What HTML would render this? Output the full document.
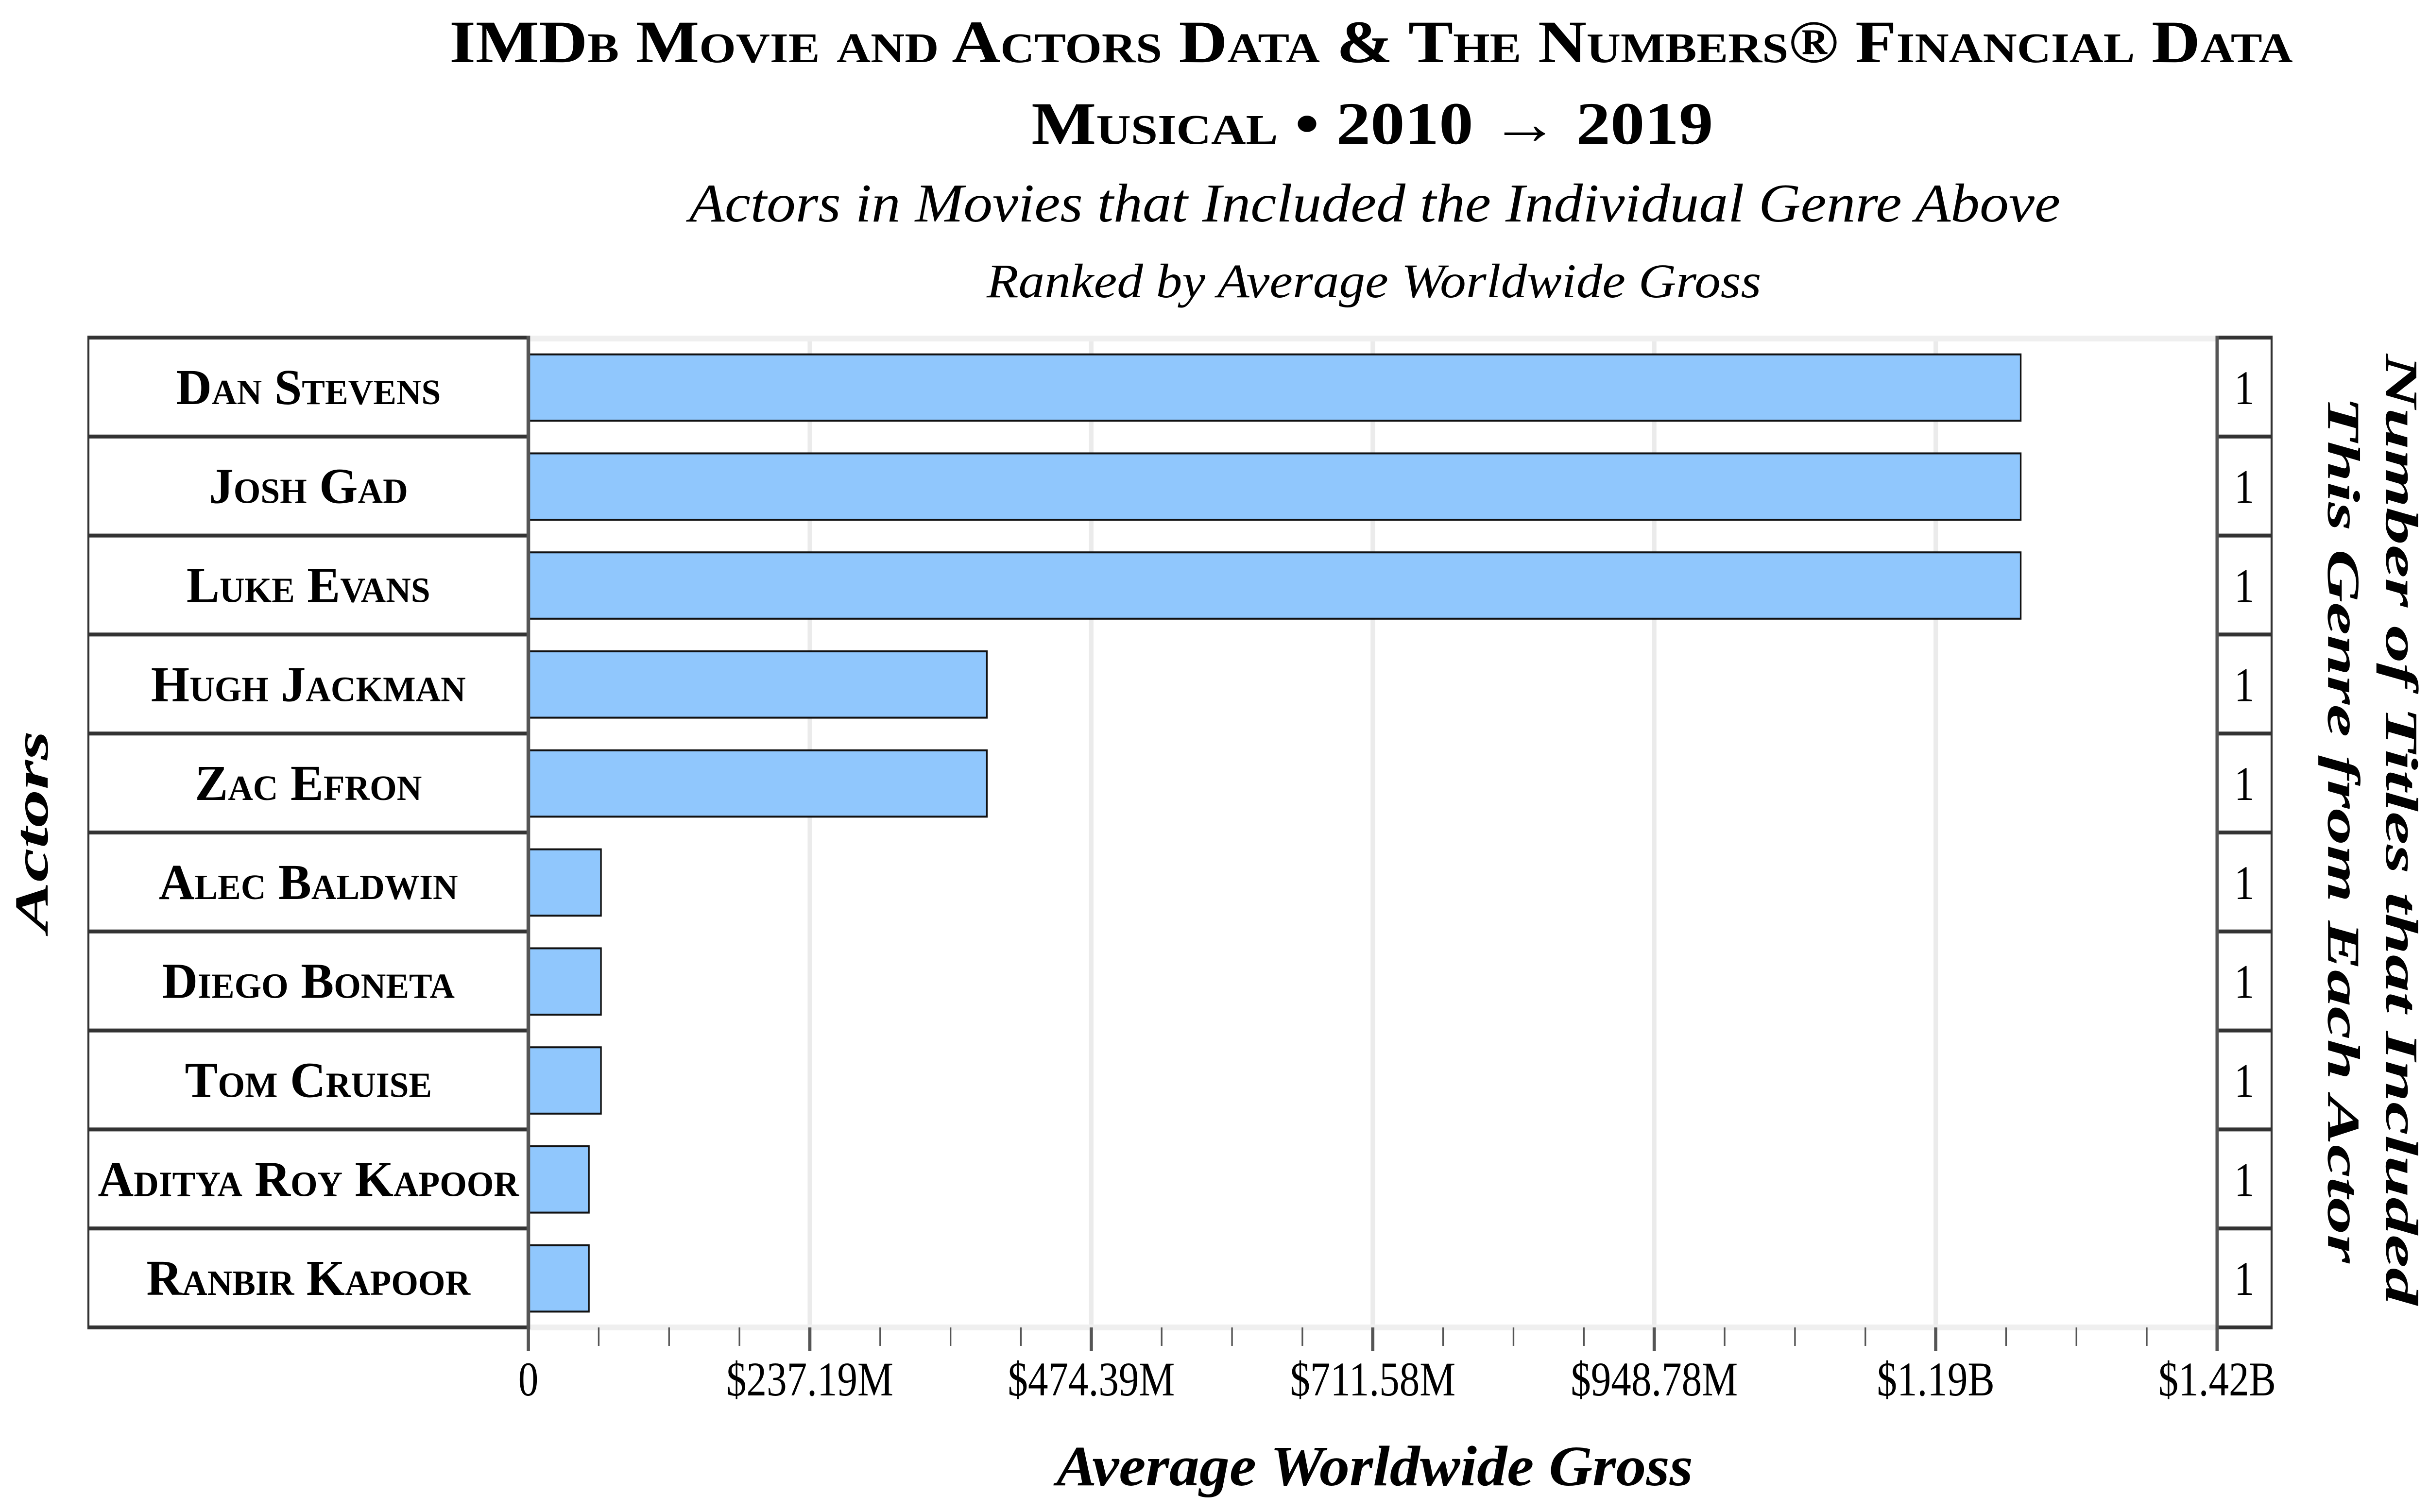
<!DOCTYPE html>
<html><head><meta charset="utf-8">
<style>
html,body{margin:0;padding:0;background:#fff;overflow:hidden;width:100%;height:100%;}
svg{display:block;width:100vw;height:100vh;}
text{font-family:"Liberation Serif","DejaVu Serif",serif;fill:#000;}
</style></head>
<body>
<svg id="chart" viewBox="0 0 6018 3113" preserveAspectRatio="none" xmlns="http://www.w3.org/2000/svg">
  <g>
    <text x="3397" y="128" text-anchor="middle" font-size="124" font-weight="bold" font-variant="small-caps" textLength="4567" lengthAdjust="spacingAndGlyphs">IMDb Movie and Actors Data &amp; The Numbers® Financial Data</text>
    <text x="3400" y="296" text-anchor="middle" font-size="124" font-weight="bold" textLength="1689" lengthAdjust="spacingAndGlyphs"><tspan font-variant="small-caps">Musical</tspan> • 2010 → 2019</text>
    <text x="3406" y="456" text-anchor="middle" font-size="112" font-style="italic" textLength="3397" lengthAdjust="spacingAndGlyphs">Actors in Movies that Included the Individual Genre Above</text>
    <text x="3404" y="612" text-anchor="middle" font-size="100" font-style="italic" textLength="1919" lengthAdjust="spacingAndGlyphs">Ranked by Average Worldwide Gross</text>
  </g>
  <g id="grid"></g>
  <g id="bars"></g>
  <g id="table"></g>
  <g id="axis"></g>
  <text x="3406" y="3058" text-anchor="middle" font-size="118" font-weight="bold" font-style="italic" textLength="1577" lengthAdjust="spacingAndGlyphs">Average Worldwide Gross</text>
  <text transform="translate(118,1712) rotate(-90)" text-anchor="middle" font-size="118" font-weight="bold" font-style="italic" textLength="415" lengthAdjust="spacingAndGlyphs">Actors</text>
  <text transform="translate(5912,1708) rotate(90)" text-anchor="middle" font-size="114" font-weight="bold" font-style="italic" textLength="1958" lengthAdjust="spacingAndGlyphs">Number of Titles that Included</text>
  <text transform="translate(5768,1708) rotate(90)" text-anchor="middle" font-size="114" font-weight="bold" font-style="italic" textLength="1785" lengthAdjust="spacingAndGlyphs">This Genre from Each Actor</text>
</svg>
<script>
const actors = ["Dan Stevens","Josh Gad","Luke Evans","Hugh Jackman","Zac Efron","Alec Baldwin","Diego Boneta","Tom Cruise","Aditya Roy Kapoor","Ranbir Kapoor"];
const grossValues = [1257.6, 1257.6, 1257.6, 386.4, 386.4, 61.2, 61.2, 61.2, 51.0, 51.0];
const titleCounts = [1,1,1,1,1,1,1,1,1,1];
const tickValues = [0, 237.19, 474.39, 711.58, 948.78, 1186, 1423.1];
const tickLabels = ["0","$237.19M","$474.39M","$711.58M","$948.78M","$1.19B","$1.42B"];

const NS = "http://www.w3.org/2000/svg";
const X0 = 1309, X1 = 5493, Y0 = 695, Y1 = 2733;
const TL = 219, CR = 5628;
const xMax = 1423.1;
const rowH = (Y1 - Y0) / actors.length;
function xScale(v){ return X0 + (v / xMax) * (X1 - X0); }
function yRow(i){ return Y0 + i * rowH; }
function mk(tag, attrs, parent){
  const el = document.createElementNS(NS, tag);
  for (const k in attrs) el.setAttribute(k, attrs[k]);
  parent.appendChild(el);
  return el;
}
const grid = document.getElementById('grid');
const bars = document.getElementById('bars');
const table = document.getElementById('table');
const axis = document.getElementById('axis');

tickValues.forEach((v, i) => {
  if (i === 0 || i === tickValues.length - 1) return;
  const l = mk('line', {x1: xScale(v), x2: xScale(v), y1: Y0, y2: Y1, stroke: '#ebebeb', 'stroke-width': 11}, grid);
  
  
});
const bandT = mk('line', {x1: X0, x2: X1, y1: Y0 + 2, y2: Y0 + 2, stroke: '#efefef', 'stroke-width': 12}, grid);


const bandB = mk('line', {x1: X0, x2: X1, y1: Y1, y2: Y1, stroke: '#efefef', 'stroke-width': 12}, grid);



grossValues.forEach((v, i) => {
  const top = yRow(i) + rowH * 0.17;
  const r = mk('rect', {x: X0, y: top, width: xScale(v) - X0, height: rowH * 0.67, fill: '#90c7fd', stroke: '#111', 'stroke-width': 4}, bars);
  
  
});

actors.forEach((a, i) => {
  const t = mk('text', {x: (TL + X0) / 2, y: yRow(i) + rowH / 2 + 35, 'text-anchor': 'middle', 'font-size': 104, 'font-weight': 'bold', 'font-variant': 'small-caps'}, table);
  t.textContent = a;
  
  
  const w = t.getComputedTextLength();
  if (w > 0) {
    t.setAttribute('textLength', (w * 1.18).toFixed(1));
    t.setAttribute('lengthAdjust', 'spacingAndGlyphs');
  }
  const c = mk('text', {x: (X1 + CR) / 2, y: yRow(i) + rowH / 2 + 35, 'text-anchor': 'middle', 'font-size': 100}, table);
  c.textContent = String(titleCounts[i]);
  
  
});
for (let i = 0; i <= actors.length; i++) {
  const y = yRow(i);
  const l = mk('line', {x1: TL, x2: X0, y1: y, y2: y, stroke: '#333', 'stroke-width': 8}, table);
  
  
  const l2 = mk('line', {x1: X1, x2: CR, y1: y, y2: y, stroke: '#333', 'stroke-width': 8}, table);
  
  
}
[[TL, '#333', 5], [X0, '#555', 9], [X1, '#555', 8], [CR, '#333', 5]].forEach(([x, c, w]) => {
  const l = mk('line', {x1: x, x2: x, y1: Y0 - 4, y2: Y1 + 4, stroke: c, 'stroke-width': w}, table);
  
  
});

for (let i = 0; i < tickValues.length; i++) {
  const x = xScale(tickValues[i]);
  const t = mk('line', {x1: x, x2: x, y1: Y1, y2: Y1 + 48, stroke: '#555', 'stroke-width': 8}, axis);
  
  
  const lb = mk('text', {x: x, y: 2873, 'text-anchor': 'middle', 'font-size': 100}, axis);
  lb.textContent = tickLabels[i];
  
  
  if (i < tickValues.length - 1) {
    for (let k = 1; k < 4; k++) {
      const v = tickValues[i] + (tickValues[i + 1] - tickValues[i]) * k / 4;
      const mx = xScale(v);
      const m = mk('line', {x1: mx, x2: mx, y1: Y1, y2: Y1 + 38, stroke: '#555', 'stroke-width': 4}, axis);
      
      
    }
  }
}
</script>
</body></html>
